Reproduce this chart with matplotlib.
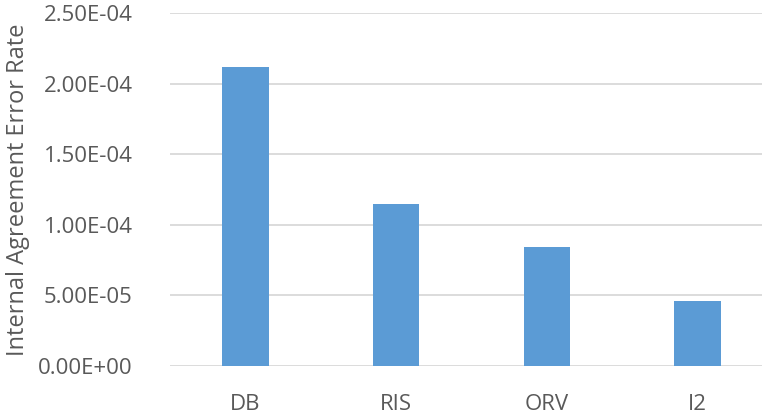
import matplotlib
matplotlib.use("Agg")
import matplotlib.pyplot as plt
from matplotlib.ticker import FuncFormatter

categories = ["DB", "RIS", "ORV", "I2"]
error_rates = [2.12e-4, 1.15e-4, 8.4e-5, 4.6e-5]
yticks = [0, 5e-5, 1e-4, 1.5e-4, 2e-4, 2.5e-4]

plt.rcParams["font.family"] = ["Open Sans", "DejaVu Sans"]
text_col = "#595959"

fig = plt.figure(figsize=(7.62, 4.18), dpi=100)
ax = fig.add_axes([170 / 762, 52 / 418, 603 / 762, 353 / 418])

x = range(len(categories))
ax.bar(x, error_rates, width=0.31, color="#5B9BD5", zorder=3)

ax.set_xlim(-0.5, 3.5)
ax.set_ylim(0, 2.5e-4)
ax.set_yticks(yticks)
ax.yaxis.set_major_formatter(FuncFormatter(lambda v, p: f"{v:.2E}"))
ax.set_xticks(list(x))
ax.set_xticklabels(categories)

ax.grid(axis="y", color="#D9D9D9", linewidth=1.3, zorder=0)
for s in ax.spines.values():
    s.set_visible(False)
ax.tick_params(axis="both", length=0, labelsize=16, colors=text_col)
ax.tick_params(axis="y", pad=27)
ax.tick_params(axis="x", pad=20)

ax.set_ylabel("Internal Agreement Error Rate", fontsize=17, color=text_col, labelpad=6)

fig.savefig("out.png", dpi=100)
